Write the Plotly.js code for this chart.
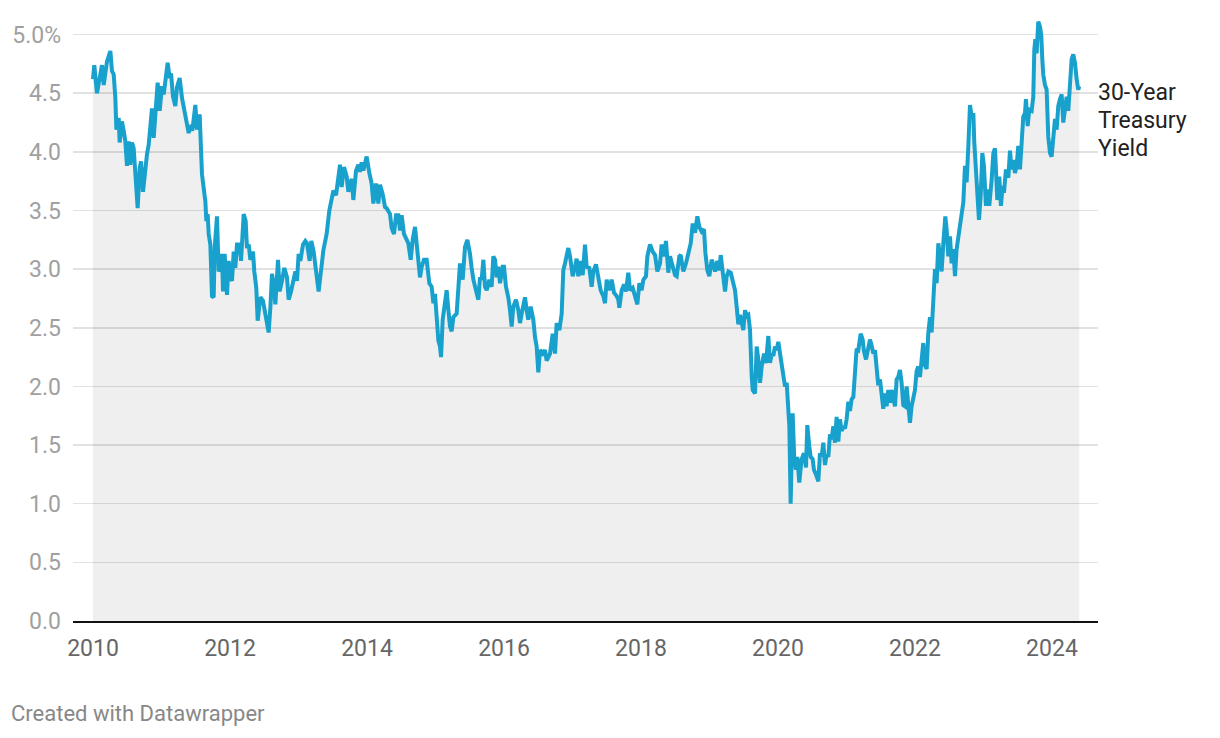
<!DOCTYPE html>
<html>
<head>
<meta charset="utf-8">
<script src="https://cdn.plot.ly/plotly-3.0.1.min.js"></script>
<style>
  html, body { margin: 0; padding: 0; background: #fff; }
  #chart { width: 1220px; height: 738px; }
</style>
</head>
<body>
<div id="chart"></div>
<script>
// Decimal-year dates and 30-year Treasury yields (%)
const years = [
  2010.000,2010.019,2010.058,2010.092,2010.131,2010.156,2010.204,2010.253,2010.277,2010.302,
  2010.326,2010.341,2010.375,2010.389,2010.423,2010.448,2010.472,2010.496,2010.521,2010.545,
  2010.569,2010.594,2010.618,2010.652,2010.681,2010.701,2010.730,2010.764,2010.788,2010.813,
  2010.837,2010.861,2010.886,2010.910,2010.944,2010.973,2011.007,2011.032,2011.056,2011.090,
  2011.119,2011.139,2011.168,2011.202,2011.226,2011.265,2011.299,2011.333,2011.363,2011.397,
  2011.421,2011.450,2011.494,2011.518,2011.557,2011.577,2011.591,2011.616,2011.640,2011.655,
  2011.674,2011.689,2011.713,2011.737,2011.762,2011.776,2011.810,2011.835,2011.859,2011.883,
  2011.898,2011.922,2011.956,2011.981,2012.005,2012.029,2012.054,2012.078,2012.102,2012.141,
  2012.161,2012.200,2012.229,2012.248,2012.273,2012.297,2012.336,2012.355,2012.384,2012.404,
  2012.443,2012.482,2012.516,2012.540,2012.564,2012.589,2012.613,2012.637,2012.662,2012.701,
  2012.725,2012.759,2012.793,2012.832,2012.856,2012.891,2012.929,2012.954,2012.978,2013.002,
  2013.027,2013.066,2013.100,2013.124,2013.163,2013.187,2013.221,2013.270,2013.294,
  2013.363,2013.411,2013.450,2013.484,2013.509,2013.548,2013.582,2013.606,2013.630,2013.664,
  2013.703,2013.728,2013.776,2013.801,2013.840,2013.874,2013.898,2013.922,2013.947,2013.995,
  2014.034,2014.068,2014.093,2014.132,2014.166,2014.190,2014.229,2014.263,2014.287,2014.336,
  2014.360,2014.394,2014.424,2014.458,2014.482,2014.506,2014.540,2014.579,2014.604,2014.638,
  2014.667,2014.701,2014.735,2014.774,2014.798,2014.832,2014.871,2014.910,2014.944,2014.969,
  2014.993,2015.017,2015.042,2015.066,2015.081,2015.105,2015.139,2015.163,2015.188,2015.212,
  2015.236,2015.261,2015.309,2015.334,2015.358,2015.397,2015.431,2015.465,2015.504,2015.528,
  2015.553,2015.591,2015.626,2015.650,2015.674,2015.699,2015.723,2015.747,2015.786,2015.820,
  2015.844,2015.869,2015.893,2015.917,2015.942,2015.981,2016.000,2016.029,2016.063,2016.088,
  2016.112,2016.136,2016.175,2016.209,2016.234,2016.258,2016.307,2016.331,2016.355,2016.389,
  2016.428,2016.453,2016.477,2016.501,2016.526,2016.565,2016.599,2016.623,2016.672,2016.711,
  2016.745,2016.769,2016.808,2016.842,2016.866,2016.891,2016.939,2016.964,2017.003,2017.037,
  2017.061,2017.085,2017.110,2017.149,2017.183,2017.207,2017.246,2017.280,2017.304,2017.343,
  2017.377,2017.411,2017.450,2017.475,2017.499,2017.538,2017.572,2017.606,2017.645,2017.669,
  2017.684,2017.718,2017.752,2017.781,2017.815,2017.840,2017.879,2017.913,2017.947,2017.976,
  2018.010,2018.035,2018.073,2018.093,2018.132,2018.171,2018.205,2018.239,2018.278,2018.302,
  2018.336,2018.365,2018.399,2018.424,2018.463,2018.497,2018.521,2018.560,2018.580,2018.618,
  2018.657,2018.692,2018.726,2018.755,2018.789,2018.823,2018.852,2018.886,2018.920,2018.940,
  2018.969,2018.998,2019.032,2019.056,2019.081,2019.115,2019.144,2019.164,2019.193,2019.227,
  2019.251,2019.276,2019.310,2019.339,2019.373,2019.397,2019.421,2019.446,2019.470,2019.494,
  2019.519,2019.543,2019.567,2019.592,2019.616,2019.631,2019.665,2019.689,2019.713,2019.738,
  2019.762,2019.796,2019.825,2019.859,2019.884,2019.908,2019.932,2019.956,2019.981,2020.005,
  2020.030,2020.054,2020.078,2020.103,2020.127,2020.151,2020.166,2020.185,2020.214,2020.238,
  2020.263,2020.282,2020.311,2020.345,2020.379,2020.409,2020.428,2020.457,2020.477,2020.506,
  2020.525,2020.554,2020.589,2020.613,2020.637,2020.662,2020.686,2020.710,2020.735,2020.759,
  2020.783,2020.808,2020.832,2020.856,2020.881,2020.905,2020.929,2020.954,2020.978,2021.002,
  2021.027,2021.051,2021.075,2021.100,2021.124,2021.148,2021.173,2021.207,2021.236,2021.255,
  2021.285,2021.309,2021.343,2021.367,2021.392,2021.416,2021.440,2021.464,2021.489,2021.513,
  2021.537,2021.562,2021.586,2021.610,2021.635,2021.659,2021.683,2021.708,2021.732,2021.756,
  2021.781,2021.805,2021.829,2021.854,2021.878,2021.902,2021.927,2021.951,2021.975,2022.000,
  2022.024,2022.048,2022.073,2022.097,2022.121,2022.146,2022.170,2022.194,2022.219,2022.243,
  2022.268,2022.292,2022.316,2022.341,2022.365,2022.389,2022.414,2022.443,2022.462,2022.487,
  2022.511,2022.535,2022.560,2022.584,2022.608,2022.633,2022.657,2022.681,2022.706,2022.730,
  2022.754,2022.779,2022.803,2022.827,2022.852,2022.866,2022.891,2022.910,2022.934,2022.959,
  2022.983,2023.007,2023.036,2023.056,2023.085,2023.119,2023.144,2023.168,2023.182,2023.202,
  2023.231,2023.255,2023.280,2023.299,2023.328,2023.363,2023.387,2023.411,2023.435,2023.460,
  2023.484,2023.508,2023.533,2023.557,2023.581,2023.606,2023.620,2023.645,2023.669,2023.703,
  2023.727,2023.742,2023.757,2023.776,2023.800,2023.825,2023.844,2023.859,2023.873,2023.898,
  2023.922,2023.946,2023.971,2023.995,2024.019,2024.044,2024.068,2024.092,2024.117,2024.141,
  2024.165,2024.190,2024.214,2024.238,2024.263,2024.287,2024.311,2024.336,2024.360,2024.384,
  2024.399
];
const yields = [
  4.62,4.74,4.50,4.62,4.74,4.57,4.77,4.86,4.69,4.66,
  4.46,4.19,4.29,4.08,4.26,4.18,4.09,3.88,4.09,3.89,
  4.08,4.03,3.75,3.52,3.86,3.92,3.66,3.89,3.98,4.06,
  4.23,4.37,4.12,4.29,4.59,4.35,4.56,4.49,4.60,4.76,
  4.63,4.67,4.47,4.39,4.55,4.63,4.46,4.35,4.26,4.16,
  4.23,4.18,4.40,4.19,4.32,3.98,3.81,3.69,3.58,3.41,
  3.47,3.30,3.21,2.77,2.76,3.18,3.45,2.98,3.01,3.13,
  2.81,3.13,2.78,3.07,2.93,2.90,3.15,3.01,3.21,3.21,
  3.07,3.47,3.41,3.18,3.21,3.08,3.15,2.98,2.84,2.56,
  2.76,2.73,2.61,2.53,2.46,2.67,2.96,2.87,2.70,3.08,
  2.81,2.90,3.01,2.93,2.74,2.81,2.93,2.98,2.90,3.13,
  3.07,3.21,3.24,3.22,3.07,3.24,3.15,2.87,2.81,
  3.16,3.30,3.50,3.60,3.67,3.63,3.77,3.89,3.70,3.87,
  3.79,3.66,3.77,3.59,3.84,3.89,3.83,3.91,3.84,3.96,
  3.82,3.73,3.56,3.73,3.56,3.72,3.64,3.53,3.52,3.47,
  3.35,3.30,3.46,3.46,3.33,3.46,3.30,3.25,3.22,3.08,
  3.25,3.36,3.16,2.93,3.02,3.08,3.08,2.88,2.85,2.71,
  2.79,2.57,2.39,2.34,2.25,2.57,2.71,2.82,2.65,2.51,
  2.47,2.59,2.62,2.88,3.05,2.91,3.19,3.25,3.13,3.01,
  2.91,2.82,2.74,2.93,2.91,3.08,2.85,2.82,2.91,2.85,
  3.11,3.08,2.93,3.02,2.88,3.02,3.02,2.85,2.76,2.65,
  2.51,2.68,2.74,2.65,2.54,2.62,2.76,2.65,2.57,2.68,
  2.57,2.42,2.34,2.12,2.31,2.28,2.31,2.22,2.28,2.45,
  2.28,2.54,2.48,2.62,2.99,3.05,3.18,3.11,2.94,3.02,
  3.09,2.94,3.07,2.95,3.21,3.02,3.01,2.85,2.98,3.04,
  2.91,2.82,2.77,2.71,2.91,2.82,2.91,2.80,2.77,2.74,
  2.67,2.82,2.87,2.81,2.97,2.82,2.84,2.77,2.70,2.88,
  2.82,2.91,2.94,3.11,3.21,3.15,3.12,2.98,3.05,3.21,
  3.11,3.24,2.97,3.11,3.02,2.95,2.94,3.11,3.12,2.98,
  3.05,3.14,3.22,3.39,3.31,3.45,3.36,3.32,3.34,3.14,
  2.99,2.94,3.08,3.04,2.98,3.07,2.99,3.12,2.99,2.81,
  2.94,2.98,2.97,2.89,2.82,2.68,2.53,2.61,2.54,2.48,
  2.65,2.60,2.61,2.48,2.09,1.97,1.94,2.34,2.23,2.03,
  2.17,2.28,2.20,2.43,2.20,2.28,2.26,2.34,2.31,2.38,
  2.28,2.20,2.13,2.00,2.03,1.80,1.66,1.00,1.77,1.38,
  1.29,1.40,1.18,1.38,1.43,1.31,1.67,1.49,1.40,1.38,
  1.29,1.25,1.19,1.43,1.40,1.52,1.33,1.42,1.40,1.59,
  1.55,1.66,1.52,1.74,1.53,1.72,1.62,1.66,1.64,1.72,
  1.87,1.79,1.89,1.91,2.11,2.32,2.31,2.45,2.40,2.30,
  2.23,2.31,2.40,2.35,2.28,2.31,2.17,2.01,2.06,1.94,
  1.81,1.94,1.83,1.97,1.86,1.97,1.89,1.83,2.06,2.08,
  2.14,2.03,1.84,1.83,2.00,1.83,1.69,1.83,1.89,1.97,
  2.13,2.17,2.08,2.21,2.37,2.18,2.15,2.45,2.59,2.46,
  2.80,3.00,2.88,3.22,3.11,2.98,3.22,3.45,3.34,3.11,
  3.28,3.05,3.17,2.94,3.17,3.28,3.40,3.51,3.57,3.88,
  3.74,4.05,4.40,4.30,4.33,4.08,3.82,3.74,3.42,3.62,
  3.99,3.88,3.54,3.68,3.54,3.76,3.99,4.03,3.85,3.59,
  3.79,3.54,3.71,3.65,3.85,3.78,4.01,3.85,3.93,3.82,
  3.88,4.05,3.85,4.05,4.30,4.33,4.45,4.22,4.36,4.35,
  4.47,4.87,4.96,4.84,5.11,5.07,4.99,4.79,4.66,4.57,
  4.53,4.13,3.99,3.96,4.16,4.28,4.19,4.39,4.45,4.49,
  4.25,4.39,4.47,4.35,4.53,4.79,4.83,4.76,4.62,4.53,
  4.56
];
const seriesLabelLines = ["30-Year", "Treasury", "Yield"];
const xTickVals = [2010, 2012, 2014, 2016, 2018, 2020, 2022, 2024];
const xTickText = ["2010", "2012", "2014", "2016", "2018", "2020", "2022", "2024"];
const yTickVals = [0, 0.5, 1, 1.5, 2, 2.5, 3, 3.5, 4, 4.5, 5];
const yTickText = ["0.0", "0.5", "1.0", "1.5", "2.0", "2.5", "3.0", "3.5", "4.0", "4.5", "5.0%"];
const footer = "Created with Datawrapper";

const trace = {
  x: years,
  y: yields,
  type: "scatter",
  mode: "lines",
  line: { color: "#19a1cd", width: 4 },
  fill: "tozeroy",
  fillcolor: "rgba(0,0,0,0.062)",
  hoverinfo: "skip",
  showlegend: false
};

const labelAnnotations = seriesLabelLines.map((txt, i) => ({
  xref: "paper", yref: "paper",
  x: 1, y: 1,
  xanchor: "left", yanchor: "middle",
  xshift: -2, yshift: -(92 - 17) - i * 28,
  text: txt,
  align: "left",
  showarrow: false,
  font: { size: 23, color: "#222", family: "Roboto, sans-serif" }
}));

const layout = {
  width: 1220,
  height: 738,
  paper_bgcolor: "#ffffff",
  plot_bgcolor: "#ffffff",
  margin: { l: 73, r: 122, t: 17, b: 117 },
  font: { family: "Roboto, 'Open Sans', sans-serif", color: "#333" },
  showlegend: false,
  xaxis: {
    type: "linear",
    range: [2009.708, 2024.672],
    tickmode: "array",
    tickvals: xTickVals,
    ticktext: xTickText,
    tickfont: { size: 23, color: "#666" },
    showgrid: false,
    zeroline: false,
    showline: true,
    linecolor: "#111",
    linewidth: 2,
    ticks: "",
    ticklabelstandoff: 5,
    fixedrange: true
  },
  yaxis: {
    range: [0, 5.15],
    tickmode: "array",
    tickvals: yTickVals,
    ticktext: yTickText,
    tickfont: { size: 23, color: "#a0a0a0" },
    showgrid: true,
    gridcolor: "#e2e2e2",
    gridwidth: 1.5,
    zeroline: false,
    showline: false,
    ticks: "",
    ticklabelstandoff: 11,
    fixedrange: true
  },
  annotations: labelAnnotations.concat([
    {
      xref: "paper", yref: "paper",
      x: 0, y: 0,
      xanchor: "left", yanchor: "middle",
      xshift: -64, yshift: -92,
      text: footer,
      showarrow: false,
      font: { size: 22, color: "#888", family: "Roboto, sans-serif" }
    }
  ])
};

Plotly.newPlot("chart", [trace], layout, { staticPlot: true, displayModeBar: false });
</script>
</body>
</html>
